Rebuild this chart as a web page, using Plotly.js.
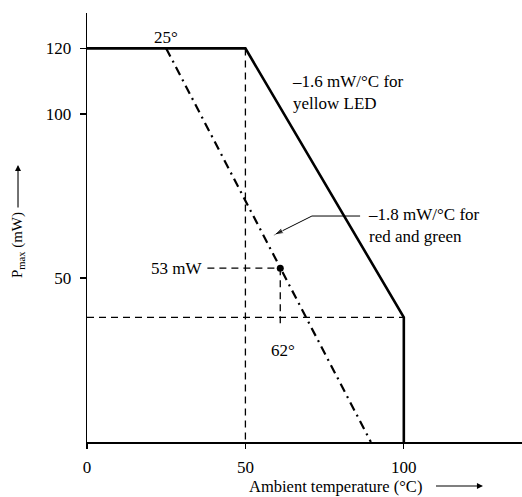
<!DOCTYPE html>
<html>
<head>
<meta charset="utf-8">
<script src="https://cdn.plot.ly/plotly-3.0.1.min.js"></script>
<style>html,body{margin:0;padding:0;background:#fff;}#chart{width:522px;height:497px;}</style>
</head>
<body>
<div id="chart"></div>
<script>
// ---- data ----
const yellowTemp = [0, 50, 100, 100];
const yellowPower = [120, 120, 38, 0];
const redGreenTemp = [25, 89.6];
const redGreenPower = [120, 0];
const guide50Temp = [50, 50];
const guide50Power = [120, 0];
const guideLevelTemp = [0, 100];
const guideLevelPower = [38, 38];
const markTemp = [61];
const markPower = [53];
const markHTemp = [38, 61];
const markHPower = [53, 53];
const markVTemp = [61, 61];
const markVPower = [53, 35];
const leaderTemp = [86.2, 71.0, 59.0];
const leaderPower = [68.9, 68.9, 63.1];
const xTickVals = [0, 50, 100];
const xTickText = ['0', '50', '100'];
const yTickVals = [50, 100, 120];
const yTickText = ['50', '100', '120'];

const FONT = 'Liberation Serif, Times New Roman, serif';
const black = '#000';

const traces = [
  {x: guide50Temp, y: guide50Power, mode: 'lines', line: {color: black, width: 1.3, dash: '7px,5px'}, hoverinfo: 'skip'},
  {x: guideLevelTemp, y: guideLevelPower, mode: 'lines', line: {color: black, width: 1.3, dash: '7px,5px'}, hoverinfo: 'skip'},
  {x: markHTemp, y: markHPower, mode: 'lines', line: {color: black, width: 1.3, dash: '7px,5px'}, hoverinfo: 'skip'},
  {x: markVTemp, y: markVPower, mode: 'lines', line: {color: black, width: 1.3, dash: '7px,5px'}, hoverinfo: 'skip'},
  {x: leaderTemp, y: leaderPower, mode: 'lines+markers', line: {color: black, width: 1},
   marker: {symbol: 'arrow', angleref: 'previous', size: [0, 0, 10], color: black}, hoverinfo: 'skip'},
  {x: redGreenTemp, y: redGreenPower, mode: 'lines', name: 'red and green', line: {color: black, width: 2.2, dash: '9px,5px,2px,5px'}},
  {x: yellowTemp, y: yellowPower, mode: 'lines', name: 'yellow LED', line: {color: black, width: 2.6}},
  {x: markTemp, y: markPower, mode: 'markers', marker: {color: black, size: 7}}
];

const layout = {
  width: 522, height: 497,
  margin: {l: 87, r: 0, t: 13, b: 55},
  paper_bgcolor: '#fff', plot_bgcolor: '#fff',
  showlegend: false,
  font: {family: FONT, size: 17, color: black},
  xaxis: {
    range: [0, 137.3], showgrid: false, zeroline: false,
    showline: true, linecolor: black, linewidth: 1.5,
    ticks: 'outside', ticklen: 5, tickwidth: 1.2, tickcolor: black,
    tickvals: xTickVals, ticktext: xTickText,
    tickfont: {family: FONT, size: 17, color: black}, ticklabelstandoff: 4
  },
  yaxis: {
    range: [0, 130.8], showgrid: false, zeroline: false,
    showline: true, linecolor: black, linewidth: 1.4,
    ticks: 'outside', ticklen: 6, tickwidth: 1.2, tickcolor: black,
    tickvals: yTickVals, ticktext: yTickText,
    tickfont: {family: FONT, size: 17, color: black}, ticklabelstandoff: 5
  },
  yaxis2: {
    range: [0, 130.8], overlaying: 'y', anchor: 'x', side: 'left',
    showgrid: false, zeroline: false, showline: false,
    ticks: 'inside', ticklen: 6, tickwidth: 1.2, tickcolor: black,
    tickvals: [50, 100], showticklabels: false
  },
  yaxis3: {
    range: [0, 130.8], overlaying: 'y', anchor: 'x', side: 'left',
    showgrid: false, zeroline: false, showline: false,
    ticks: 'outside', ticklen: 6, tickwidth: 1.5, tickcolor: black,
    tickvals: [0.2], showticklabels: false
  },
  annotations: [
    {x: 25, y: 123.3, xref: 'x', yref: 'y', text: '25°', showarrow: false, xanchor: 'center', yanchor: 'middle'},
    {x: 64, y: 106.5, xref: 'x', yref: 'y', text: '–1.6 mW/°C for<br>yellow LED', showarrow: false, xanchor: 'left', yanchor: 'middle', align: 'left'},
    {x: 88.1, y: 66.0, xref: 'x', yref: 'y', text: '–1.8 mW/°C for<br>red and green', showarrow: false, xanchor: 'left', yanchor: 'middle', align: 'left'},
    {x: 36.8, y: 53, xref: 'x', yref: 'y', text: '53 mW', showarrow: false, xanchor: 'right', yanchor: 'middle'},
    {x: 62, y: 28, xref: 'x', yref: 'y', text: '62°', showarrow: false, xanchor: 'center', yanchor: 'middle'},
    {x: 0.9103, y: -0.1026, xref: 'paper', yref: 'paper', ax: -147, ay: 0, text: 'Ambient temperature (°C)',
     showarrow: true, arrowhead: 2, arrowsize: 1.1, arrowwidth: 1.1, arrowcolor: black, startstandoff: 12,
     font: {family: FONT, size: 16.5, color: black}},
    {x: -0.1586, y: 0.6457, xref: 'paper', yref: 'paper', ax: 0, ay: 80, text: 'P<sub>max</sub> (mW)', textangle: -90,
     showarrow: true, arrowhead: 2, arrowsize: 1.1, arrowwidth: 1.1, arrowcolor: black, startstandoff: 3,
     font: {family: FONT, size: 15, color: black}}
  ]
};

Plotly.newPlot('chart', traces, layout, {staticPlot: true, displayModeBar: false});
</script>
</body>
</html>
